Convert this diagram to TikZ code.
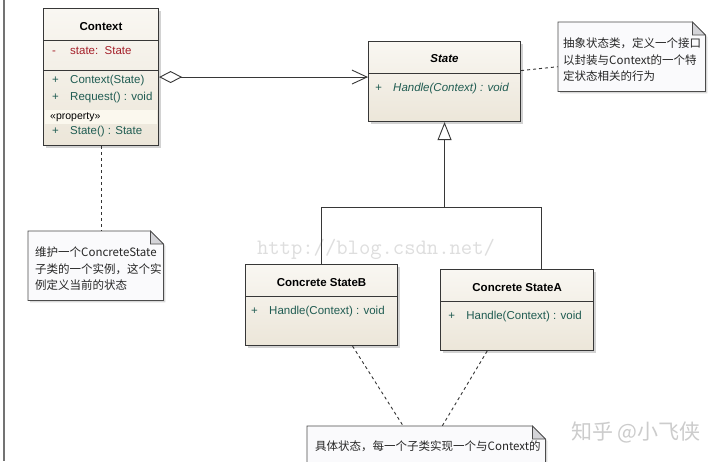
\documentclass[tikz,border=0pt]{standalone}
\usepackage{fontspec}
\setmainfont{Liberation Sans}
\newfontfamily\cjk{Noto Sans CJK SC}
\usetikzlibrary{arrows.meta,positioning,calc,shadows}
\definecolor{classtop}{RGB}{249,247,242}
\definecolor{classbot}{RGB}{236,230,217}
\definecolor{notebg}{RGB}{250,250,252}
\definecolor{foldgray}{RGB}{212,212,216}
\definecolor{edgegray}{RGB}{55,55,55}
\definecolor{attrred}{RGB}{165,32,42}
\definecolor{opteal}{RGB}{32,92,82}
\definecolor{markgray}{RGB}{222,222,222}
\definecolor{bandfill}{RGB}{251,248,238}
\newcommand{\umlsize}{\fontsize{11.5}{14}\selectfont}
\newcommand{\pub}{\makebox[18pt][l]{+}}
\newcommand{\priv}{\makebox[18pt][l]{-}}

\begin{document}
\begin{tikzpicture}[
    x=1pt, y=-1pt,
    cls/.style={draw=edgegray, line width=1.1pt, top color=classtop, bottom color=classbot, anchor=north west, inner sep=0pt,
      drop shadow={shadow xshift=2.5pt, shadow yshift=-2.5pt, opacity=0.35}},
    sep/.style={draw=edgegray, line width=0.9pt},
    title/.style={font=\bfseries\umlsize, inner sep=0pt},
    op/.style={anchor=west, inner sep=0pt, text height=8pt, text depth=2.5pt, text=opteal, font=\umlsize},
    attr/.style={op, text=attrred},
    notebox/.style={anchor=north west, inner sep=0pt},
    notetext/.style={anchor=north west, align=left, inner sep=0pt, text=black!85, font=\cjk\fontsize{11.5}{16.5}\selectfont},
    noteline/.style={draw=black!70, line width=0.8pt, fill=notebg, drop shadow={shadow xshift=2pt, shadow yshift=-2pt, opacity=0.3}},
    agg/.style={draw=edgegray, line width=0.9pt, {Diamond[fill=white, length=23pt, width=12pt]}-{Straight Barb[length=15pt, width=14pt]}},
    gen/.style={draw=edgegray, line width=0.9pt, -{Triangle[fill=white, length=18pt, width=14pt]}},
    tree/.style={draw=edgegray, line width=0.9pt},
    link/.style={draw=black!80, line width=0.9pt, dash pattern=on 3pt off 3pt}
  ]
  \useasboundingbox (0,0) rectangle (720,461);
  \clip (0,0) rectangle (720,461);
  \fill[white] (0,0) rectangle (720,461);
  \draw[black!55, line width=1.3pt] (4,0) -- (4,461);

  \node[font=\ttfamily\fontsize{22}{22}\selectfont, text=markgray] (csdn) at (376,249) {http://blog.csdn.net/};
  \node[font=\cjk\fontsize{21}{21}\selectfont, text=black!20] (zhihu) at (636,432) {知乎 @小飞侠};

  \node[cls, minimum width=115pt, minimum height=137pt] (ctx) at (43,8) {};
  \fill[bandfill] ([xshift=2pt,yshift=-102pt]ctx.north west) rectangle ([xshift=-2pt,yshift=-116pt]ctx.north east);
  \node[title] (ctxname) at ([yshift=-19pt]ctx.north) {Context};
  \draw[sep] ([yshift=-32pt]ctx.north west) -- ([yshift=-32pt]ctx.north east);
  \node[attr] (ctxattr) at ([xshift=9pt,yshift=-44pt]ctx.north west) {\priv state:\ \ State};
  \draw[sep] ([yshift=-62pt]ctx.north west) -- ([yshift=-62pt]ctx.north east);
  \node[op] (ctxop1) at ([xshift=9pt,yshift=-73pt]ctx.north west) {\pub Context(State)};
  \node[op] (ctxop2) at ([xshift=9pt,yshift=-90pt]ctx.north west) {\pub Request() : void};
  \node[op, text=black, font=\fontsize{10.5}{12}\selectfont] (ctxstereo) at ([xshift=7pt,yshift=-109pt]ctx.north west) {«property»};
  \node[op] (ctxop3) at ([xshift=9pt,yshift=-124pt]ctx.north west) {\pub State() : State};

  \node[cls, minimum width=152pt, minimum height=80pt] (state) at (368,41) {};
  \node[title, font=\bfseries\itshape\umlsize] (statename) at ([yshift=-18pt]state.north) {State};
  \draw[sep] ([yshift=-32pt]state.north west) -- ([yshift=-32pt]state.north east);
  \node[op, font=\itshape\umlsize] (stateop) at ([xshift=7pt,yshift=-48pt]state.north west) {\pub Handle(Context) : void};

  \node[cls, minimum width=152pt, minimum height=81pt] (csb) at (245,264) {};
  \node[title] (csbname) at ([yshift=-19pt]csb.north) {Concrete StateB};
  \draw[sep] ([yshift=-32pt]csb.north west) -- ([yshift=-32pt]csb.north east);
  \node[op] (csbop) at ([xshift=6pt,yshift=-48pt]csb.north west) {\pub Handle(Context) : void};

  \node[cls, minimum width=153pt, minimum height=81pt, below right=5pt and 42pt of csb.north east] (csa) {};
  \node[title] (csaname) at ([yshift=-19pt]csa.north) {Concrete StateA};
  \draw[sep] ([yshift=-32pt]csa.north west) -- ([yshift=-32pt]csa.north east);
  \node[op] (csaop) at ([xshift=8pt,yshift=-48pt]csa.north west) {\pub Handle(Context) : void};

  \node[notebox, minimum width=147pt, minimum height=69pt] (nstate) at (558,22) {};
  \node[notebox, minimum width=135pt, minimum height=69pt] (nctx) at (28,231) {};
  \node[notebox, minimum width=238pt, minimum height=60pt] (nconc) at (307,426) {};
  \foreach \n in {nstate,nctx,nconc}{
    \path[noteline] (\n.north west) -- ([xshift=-13pt]\n.north east) -- ([yshift=-13pt]\n.north east)
      -- (\n.south east) -- (\n.south west) -- cycle;
    \filldraw[draw=black!70, line width=0.8pt, fill=foldgray] ([xshift=-13pt]\n.north east)
      -- ([xshift=-13pt,yshift=-13pt]\n.north east) -- ([yshift=-13pt]\n.north east) -- cycle;
  }
  \node[notetext] (nstatetxt) at ([xshift=5pt,yshift=-16pt]nstate.north west) {抽象状态类，定义一个接口\\以封装与Context的一个特\\定状态相关的行为};
  \node[notetext] (nctxtxt) at ([xshift=7pt,yshift=-16pt]nctx.north west) {维护一个ConcreteState\\子类的一个实例，这个实\\例定义当前的状态};
  \node[notetext] (nconctxt) at ([xshift=8pt,yshift=-15pt]nconc.north west) {具体状态，每一个子类实现一个与Context的};

  \draw[agg] (ctx.east) -- (ctx.east -| state.west);
  \coordinate (fork) at ([yshift=-85pt]state.south);
  \draw[tree] (csb.north) |- (fork) -| ([xshift=24pt]csa.north);
  \draw[gen] (fork) -- (state.south);

  \draw[link] (ctx.south) -- (ctx.south |- nctx.north);
  \draw[link] ([yshift=11pt]state.east) -- ([yshift=-10pt]nstate.west);
  \draw[link] ([xshift=31pt]csb.south) -- ([xshift=-23pt]nconc.north);
  \draw[link] ([xshift=-30pt]csa.south) -- ([xshift=16pt]nconc.north);
\end{tikzpicture}
\end{document}
